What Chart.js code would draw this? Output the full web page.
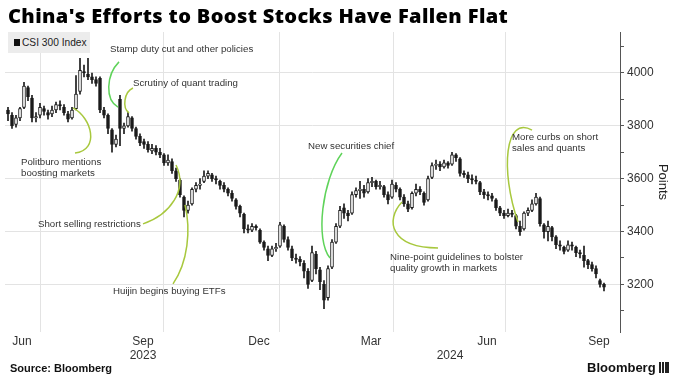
<!DOCTYPE html>
<html lang="en">
<head>
<meta charset="UTF-8">
<title>China's Efforts to Boost Stocks Have Fallen Flat</title>
<script src="https://cdn.jsdelivr.net/npm/chart.js@4.4.1/dist/chart.umd.min.js"></script>
<style>
  body { margin: 0; background: #fff; }
  #wrap { position: relative; width: 680px; height: 385px; overflow: hidden;
          font-family: "Liberation Sans", Arial, sans-serif; color: #222; }
  #chart { position: absolute; left: 0; top: 0; }
  .title { position: absolute; left: 8px; top: 4px; font-family: "Open Sans", sans-serif;
           font-weight: 800; font-size: 20px; line-height: 24px; letter-spacing: 0.38px; color: #000; white-space: nowrap; }
  .legend { position: absolute; left: 8px; top: 32px; width: 82px; height: 21px; background: #ececec;
            font-size: 10.2px; line-height: 21px; color: #222; }
  .legend i { display: inline-block; width: 6px; height: 7px; background: #111; margin: 0 2px 0 6px; }
  .note { position: absolute; font-size: 9.7px; line-height: 10.5px; color: #333; white-space: nowrap; }
  .source { position: absolute; left: 10px; top: 362px; font-weight: bold; font-size: 11px; color: #111; }
  .brand { position: absolute; left: 587px; top: 360px; font-weight: bold; font-size: 13px; color: #111; }
  .brand b { display: inline-block; width: 10px; height: 11px; background: #222; vertical-align: -1px; margin-left: 3px;
             background-image: linear-gradient(90deg, #222 2px, #fff 2px, #fff 3px, #222 3px, #222 5px, #fff 5px, #fff 6px, #222 6px); }
</style>
</head>
<body>
<div id="wrap">
  <canvas id="chart" width="680" height="385"></canvas>
  <div class="title">China's Efforts to Boost Stocks Have Fallen Flat</div>
  <div class="legend"><i></i>CSI 300 Index</div>
  <div class="note" style="left:110px;top:44px">Stamp duty cut and other policies</div>
  <div class="note" style="left:133px;top:78px">Scrutiny of quant trading</div>
  <div class="note" style="left:21px;top:157px">Politburo mentions<br>boosting markets</div>
  <div class="note" style="left:38px;top:219px">Short selling restrictions</div>
  <div class="note" style="left:113px;top:286px">Huijin begins buying ETFs</div>
  <div class="note" style="left:308px;top:141px">New securities chief</div>
  <div class="note" style="left:390px;top:252px">Nine-point guidelines to bolster<br>quality growth in markets</div>
  <div class="note" style="left:512px;top:132px">More curbs on short<br>sales and quants</div>
  <div class="source">Source: Bloomberg</div>
  <div class="brand">Bloomberg<b></b></div>
</div>
<script>
// CSI 300 candles, roughly two trading days each, Jun 2023 - Sep 2024
const open = [3860,3840,3805,3830,3870,3945,3905,3830,3840,3865,3850,3845,3860,3880,3870,3845,3830,3865,3930,4005,
  3995,3985,3975,3980,3860,3840,3785,3730,3900,3790,3800,3830,3790,3760,3740,3730,3705,3715,3700,3690,
  3660,3665,3630,3595,3530,3480,3505,3560,3575,3590,3610,3615,3600,3590,3575,3560,3545,3520,3495,3465,
  3410,3405,3420,3405,3360,3335,3310,3335,3345,3420,3370,3335,3300,3295,3280,3250,3215,3315,3255,3200,
  3150,3265,3360,3420,3490,3470,3470,3540,3555,3560,3550,3585,3590,3570,3570,3540,3530,3575,3560,3530,
  3505,3490,3545,3560,3545,3520,3605,3650,3655,3645,3660,3655,3690,3675,3620,3615,3600,3595,3585,3550,
  3540,3535,3520,3490,3470,3460,3470,3460,3420,3410,3470,3480,3505,3525,3425,3400,3415,3380,3350,3340,
  3330,3350,3340,3320,3310,3290,3275,3260,3215,3200];
const high = [3870,3850,3840,3870,3965,3950,3915,3850,3885,3875,3860,3875,3890,3895,3880,3855,3870,3990,4055,4030,
  4055,4000,3985,3985,3870,3845,3790,3765,3915,3810,3850,3835,3795,3770,3750,3740,3730,3725,3715,3695,
  3690,3675,3640,3600,3535,3515,3565,3585,3600,3630,3630,3620,3610,3595,3585,3565,3555,3525,3500,3470,
  3425,3430,3425,3410,3365,3345,3345,3355,3435,3425,3380,3345,3315,3305,3290,3260,3345,3325,3265,3215,
  3270,3370,3430,3495,3505,3480,3550,3565,3590,3575,3600,3605,3595,3590,3575,3550,3595,3585,3565,3540,
  3515,3550,3580,3570,3550,3610,3660,3670,3665,3670,3665,3700,3695,3680,3630,3625,3615,3610,3590,3560,
  3550,3545,3525,3495,3480,3485,3480,3465,3440,3475,3490,3520,3545,3530,3430,3440,3420,3385,3365,3345,
  3365,3360,3345,3330,3345,3295,3285,3270,3220,3205];
const low = [3820,3790,3795,3820,3865,3895,3815,3815,3830,3840,3825,3835,3850,3860,3840,3815,3825,3860,3920,3985,
  3975,3960,3950,3850,3830,3770,3700,3720,3725,3770,3795,3780,3750,3725,3715,3700,3695,3690,3680,3650,
  3650,3620,3590,3530,3455,3470,3500,3550,3560,3585,3600,3590,3580,3560,3550,3535,3515,3485,3455,3395,
  3395,3400,3405,3355,3330,3290,3305,3325,3340,3360,3330,3290,3280,3270,3225,3185,3210,3240,3180,3108,
  3140,3260,3355,3415,3450,3440,3465,3530,3525,3530,3545,3570,3560,3560,3530,3505,3525,3550,3520,3495,
  3475,3485,3535,3540,3500,3515,3600,3635,3630,3640,3640,3650,3665,3610,3605,3585,3580,3580,3540,3525,
  3520,3515,3480,3460,3450,3455,3455,3410,3385,3405,3460,3475,3500,3420,3375,3365,3365,3335,3330,3315,
  3325,3330,3305,3300,3265,3260,3250,3225,3190,3175];
const close = [3845,3800,3830,3865,3950,3910,3830,3835,3870,3855,3840,3860,3880,3875,3850,3825,3860,3920,4010,4000,
  3985,3975,3960,3860,3840,3790,3730,3750,3790,3800,3835,3790,3760,3735,3730,3710,3715,3700,3690,3660,
  3670,3630,3600,3540,3480,3500,3560,3575,3580,3610,3620,3600,3595,3575,3560,3545,3525,3495,3470,3410,
  3405,3420,3415,3360,3340,3310,3335,3340,3425,3370,3340,3300,3295,3285,3250,3200,3320,3260,3210,3140,
  3260,3360,3420,3480,3470,3460,3540,3555,3560,3545,3585,3590,3570,3575,3540,3520,3580,3560,3530,3505,
  3485,3545,3560,3550,3510,3600,3650,3655,3645,3660,3650,3690,3680,3620,3615,3600,3595,3590,3550,3540,
  3535,3525,3490,3470,3460,3470,3465,3420,3400,3470,3480,3505,3530,3430,3400,3420,3380,3350,3345,3325,
  3350,3345,3320,3315,3290,3275,3260,3240,3200,3190];

// x axis: month labels (centred mid-month) and quarter gridlines, in candle-index units
const xTickPos = [3.5, 33.75, 62.75, 90.75, 110.5, 119.75, 147.75];
const xTickLabels = [['Jun'], ['Sep', '2023'], ['Dec'], ['Mar'], ['', '2024'], ['Jun'], ['Sep']];
const xGridPos = [8, 38.75, 67.75, 96.25, 124.5];

// y axis ticks
const yTickValues = [3100, 3200, 3300, 3400, 3500, 3600, 3700, 3800, 3900, 4000, 4100];
const yTickLabels = ['', '3200', '', '3400', '', '3600', '', '3800', '', '4000', ''];

// annotation connectors, in [candle index, points]
const curves = [
  { c: '#a8c83e', p: [[16.25, 3868], [21, 3830], [23, 3709], [16.75, 3697]] },
  { c: '#5fd35a', p: [[27.75, 4042], [24.5, 3992], [24.25, 3898], [27.5, 3871]] },
  { c: '#a8c83e', p: [[31.25, 3943], [29, 3928], [28.5, 3868], [30.25, 3849]] },
  { c: '#a8c83e', p: [[33.75, 3429], [40.5, 3463], [45, 3557], [42, 3652]] },
  { c: '#a8c83e', p: [[44.25, 3501], [45.75, 3406], [45, 3285], [41.25, 3202]] },
  { c: '#5fd35a', p: [[83.5, 3697], [78.5, 3595], [76.75, 3368], [80.5, 3300]] },
  { c: '#a8c83e', p: [[98.5, 3512], [94.25, 3444], [95.5, 3338], [107.5, 3338]] },
  { c: '#a8c83e', p: [[131, 3784], [124.25, 3841], [123, 3633], [127.5, 3436]] }
];

const ink = '#1b1b1b';
const wicks = close.map((_, i) => ({ x: i, y: [low[i], high[i]] }));
const bodies = close.map((_, i) => ({ x: i, y: [open[i], close[i]] }));

const connectors = {
  id: 'connectors',
  afterDatasetsDraw(chart) {
    const { ctx, scales: { x, y } } = chart;
    ctx.save();
    ctx.lineWidth = 1.5;
    curves.forEach(cv => {
      const pts = cv.p.map(q => [x.getPixelForValue(q[0]), y.getPixelForValue(q[1])]);
      ctx.strokeStyle = cv.c;
      ctx.beginPath();
      ctx.moveTo(pts[0][0], pts[0][1]);
      ctx.bezierCurveTo(pts[1][0], pts[1][1], pts[2][0], pts[2][1], pts[3][0], pts[3][1]);
      ctx.stroke();
    });
    ctx.restore();
  }
};

new Chart(document.getElementById('chart'), {
  type: 'bar',
  data: {
    datasets: [
      {
        data: bodies, grouped: false, order: 1, barThickness: 3,
        backgroundColor: c => (close[c.dataIndex] >= open[c.dataIndex] ? '#fff' : ink),
        borderColor: ink, borderWidth: 1, borderSkipped: false
      },
      { data: wicks, grouped: false, order: 2, barThickness: 1, backgroundColor: ink, borderWidth: 0 }
    ]
  },
  options: {
    responsive: false,
    animation: false,
    layout: { padding: { top: 32, left: 5, right: 0, bottom: 0 } },
    plugins: { legend: { display: false }, tooltip: { enabled: false } },
    scales: {
      x: {
        type: 'linear', min: -0.75, max: 153, offset: false,
        afterBuildTicks: s => { s.ticks = xTickPos.concat(xGridPos).map(v => ({ value: v })); },
        afterFit: s => { s.height = 53; },
        grid: { offset: false, color: c => (c.tick && xGridPos.includes(c.tick.value) ? '#e3e3e3' : 'rgba(0,0,0,0)'), drawTicks: false },
        border: { display: false },
        ticks: {
          autoSkip: false, maxRotation: 0, padding: 2, color: '#333',
          font: { family: '"Liberation Sans", Arial, sans-serif', size: 12 },
          callback: v => { const k = xTickPos.indexOf(v); return k < 0 ? '' : xTickLabels[k]; }
        }
      },
      y: {
        position: 'right', min: 3020, max: 4155,
        afterBuildTicks: s => { s.ticks = yTickValues.map(v => ({ value: v })); },
        afterFit: s => { s.width = 60; },
        grid: {
          color: c => (c.tick && yTickLabels[yTickValues.indexOf(c.tick.value)] ? '#e3e3e3' : 'rgba(0,0,0,0)'),
          tickColor: '#555', tickLength: 4
        },
        border: { display: true, color: '#555' },
        ticks: {
          padding: 3, color: '#333',
          font: { family: '"Liberation Sans", Arial, sans-serif', size: 12 },
          callback: v => yTickLabels[yTickValues.indexOf(v)] || ''
        },
        title: {
          display: true, text: 'Points', color: '#222',
          font: { family: '"Liberation Sans", Arial, sans-serif', size: 13 },
          padding: { top: 10, bottom: 0 }
        }
      }
    }
  },
  plugins: [connectors]
});
</script>
</body>
</html>
